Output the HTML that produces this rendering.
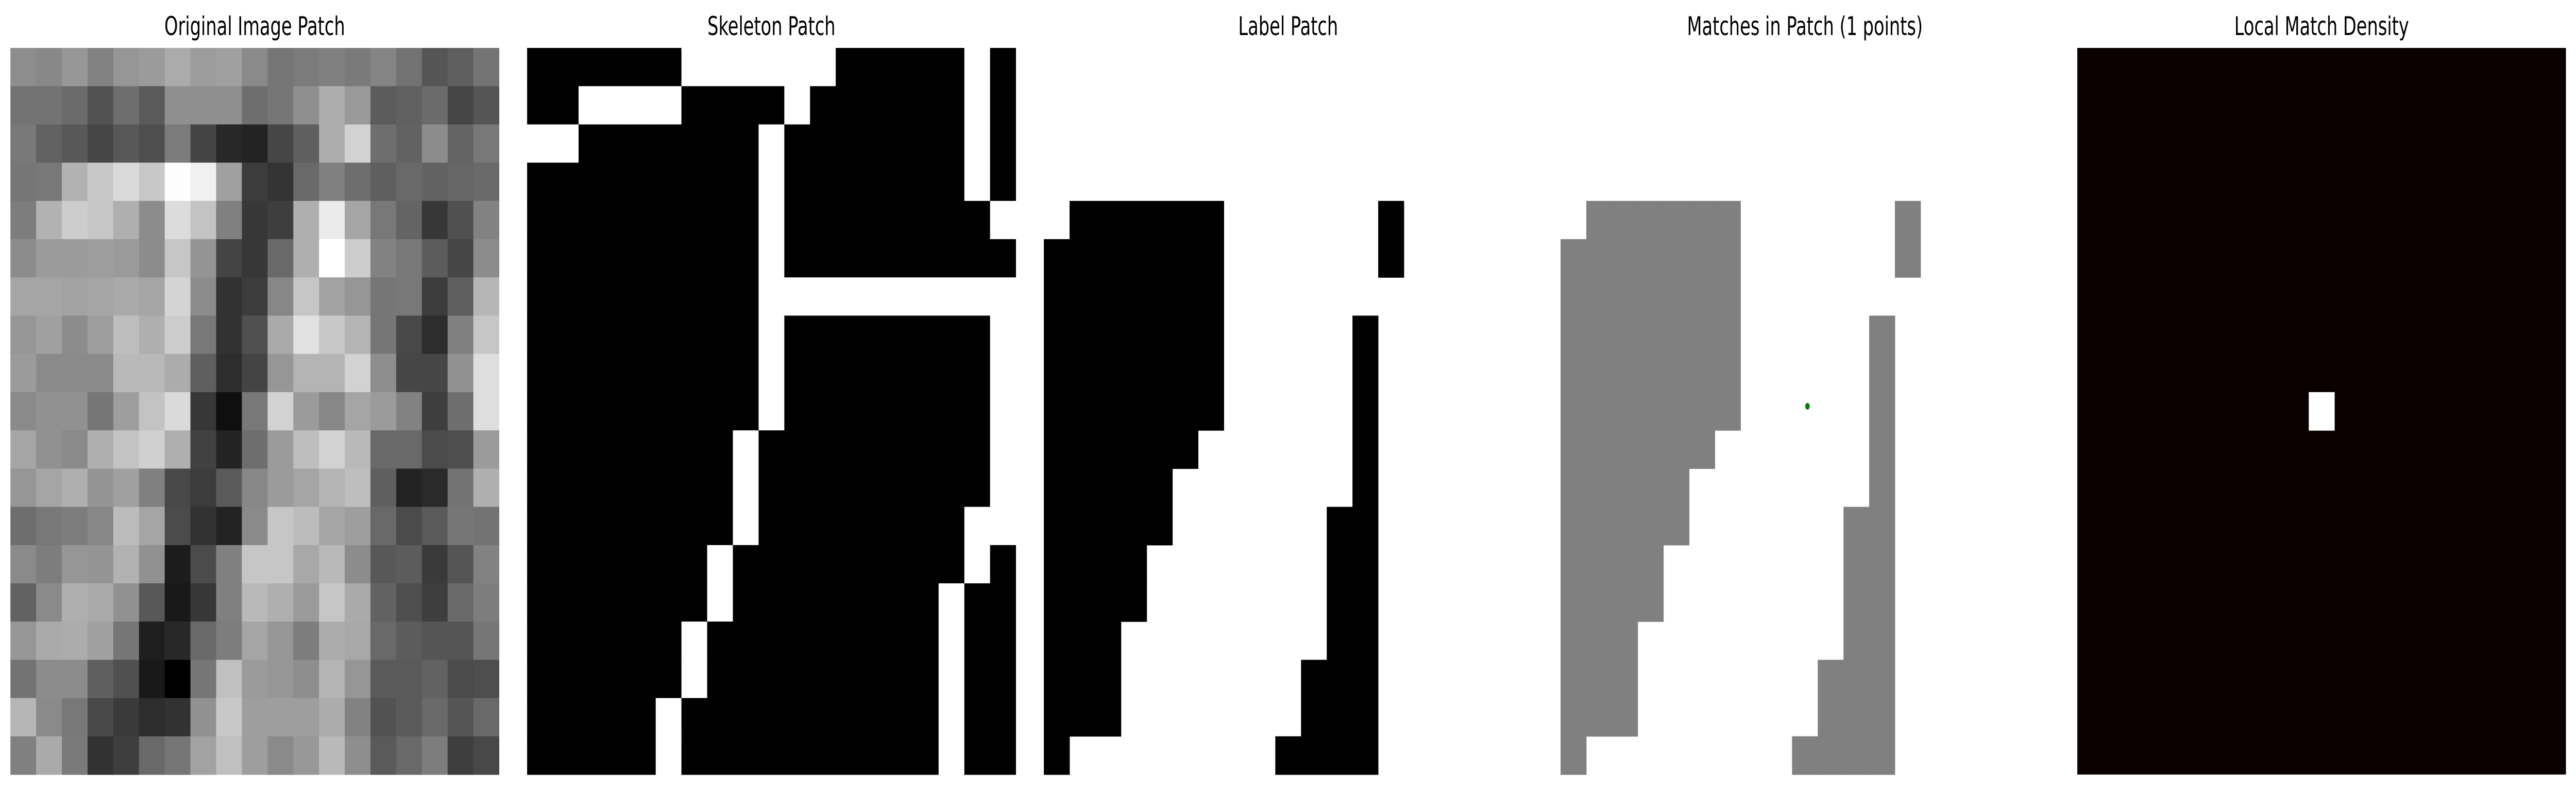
<!DOCTYPE html>
<html><head><meta charset="utf-8"><style>
html,body{margin:0;padding:0;background:#fff;overflow:hidden;width:100%;height:100%;}
svg{display:block;width:100vw;height:100vh;}
text{font-family:"DejaVu Sans","Liberation Sans",sans-serif;font-size:50px;fill:#000;}
</style></head><body>
<svg id="fig" viewBox="0 0 7433 1533" preserveAspectRatio="none" xmlns="http://www.w3.org/2000/svg">
<rect width="7433" height="1533" fill="#fff"/>
<text x="735" y="68" text-anchor="middle">Original Image Patch</text>
<text x="2226" y="68" text-anchor="middle">Skeleton Patch</text>
<text x="3717" y="68" text-anchor="middle">Label Patch</text>
<text x="5208" y="68" text-anchor="middle">Matches in Patch (1 points)</text>
<text x="6699" y="68" text-anchor="middle">Local Match Density</text>
<g id="p1"></g>
<g id="p2"></g>
<g id="p3"></g>
<g id="p4"></g>
<g id="p5"></g>
</svg>
<script>
const grayRows = [
[141,136,151,130,150,155,171,156,160,138,118,123,128,122,132,114,85,95,116],
[115,115,107,82,110,90,143,143,143,110,118,143,173,153,92,96,107,70,85],
[120,98,88,70,88,78,123,68,40,35,70,95,173,210,110,98,140,100,120],
[118,120,178,200,218,200,253,240,160,60,52,105,128,110,95,105,98,102,106],
[125,178,205,198,175,140,220,195,128,55,62,175,235,165,120,100,55,80,130],
[140,155,155,158,155,140,198,148,68,55,105,175,255,205,130,120,92,70,140],
[165,165,162,165,170,165,212,140,50,60,135,198,162,150,118,120,60,95,182],
[150,160,140,158,190,175,205,120,50,80,170,225,200,180,118,72,45,128,198],
[155,138,138,138,185,185,172,95,45,68,150,180,180,210,142,70,70,145,222],
[138,145,145,118,158,195,218,55,15,120,210,155,135,165,155,130,62,110,222],
[165,145,138,175,195,208,175,65,35,110,155,190,210,185,105,105,75,78,155],
[150,165,175,148,160,128,72,60,90,135,155,165,180,190,95,35,42,115,175],
[110,120,125,135,188,165,75,50,35,138,198,188,165,158,105,75,90,118,115],
[138,125,150,148,178,145,28,75,128,198,198,168,185,140,88,92,58,85,130],
[98,138,175,170,145,88,25,55,128,185,175,155,198,170,98,78,62,105,125],
[150,170,172,160,118,30,40,105,125,165,150,125,172,168,105,92,85,85,118],
[115,140,140,95,80,25,0,118,192,155,150,142,180,150,90,90,98,75,78],
[182,138,120,72,58,45,50,145,200,158,158,158,172,130,82,90,105,85,105],
[128,170,122,50,62,105,118,162,192,158,138,152,185,142,90,105,125,62,72]
];
const skeletonRows = [
"0000001111110000010",
"0011110000100000010",
"1100000001000000010",
"0000000001000000010",
"0000000001000000001",
"0000000001000000000",
"0000000001111111111",
"0000000001000000001",
"0000000001000000001",
"0000000001000000001",
"0000000010000000001",
"0000000010000000001",
"0000000010000000011",
"0000000100000000010",
"0000000100000000100",
"0000001000000000100",
"0000001000000000100",
"0000010000000000100",
"0000010000000000100"
];
const labelRows = [
"0000000000000000000",
"0000000000000000000",
"0000000000000000000",
"0000000000000000000",
"0111111000000100000",
"1111111000000100000",
"1111111000000000000",
"1111111000001000000",
"1111111000001000000",
"1111111000001000000",
"1111110000001000000",
"1111100000001000000",
"1111100000011000000",
"1111000000011000000",
"1111000000011000000",
"1110000000011000000",
"1110000000111000000",
"1110000000111000000",
"1000000001111000000"
];
const matchCols = [9.6];
const matchRows = [9.37];
const densityCols = [9];
const densityRows = [9];

const NS = "http://www.w3.org/2000/svg";
const N = 19, SIZE = 1410, TOP = 93, CELL = SIZE / N;
const panelX = [30, 1521, 3012, 4503, 5994];
function cx(p, c) { return panelX[p] + c * CELL; }
function cy(r) { return TOP + r * CELL; }
function rect(g, x, y, w, h, fill) {
  const el = document.createElementNS(NS, "rect");
  el.setAttribute("x", x); el.setAttribute("y", y);
  el.setAttribute("width", w + 0.6); el.setAttribute("height", h + 0.6);
  el.setAttribute("fill", fill);
  g.appendChild(el);
  return el;
}
const g1 = document.getElementById("p1");
grayRows.forEach((row, r) => row.forEach((v, c) => {
  const el = rect(g1, cx(0, c), cy(r), CELL, CELL, `rgb(${v},${v},${v})`);
  
  
}));
const g2 = document.getElementById("p2");
skeletonRows.forEach((row, r) => [...row].forEach((v, c) => {
  const el = rect(g2, cx(1, c), cy(r), CELL, CELL, v === "1" ? "#fff" : "#000");
  
  
}));
const g3 = document.getElementById("p3"), g4 = document.getElementById("p4");
labelRows.forEach((row, r) => [...row].forEach((v, c) => {
  if (v !== "1") return;
  const a = rect(g3, cx(2, c), cy(r), CELL, CELL, "#000");
  
  
  const b = rect(g4, cx(3, c), cy(r), CELL, CELL, "#808080");
  
  
}));
matchCols.forEach((c, i) => {
  const d = document.createElementNS(NS, "circle");
  d.setAttribute("cx", cx(3, c)); d.setAttribute("cy", cy(matchRows[i]));
  d.setAttribute("r", 6.5); d.setAttribute("fill", "#008000");
  
  
  g4.appendChild(d);
});
const g5 = document.getElementById("p5");
const bg = rect(g5, panelX[4], TOP, SIZE - 0.6, SIZE - 0.6, "#0b0000");


densityCols.forEach((c, i) => {
  const el = rect(g5, cx(4, c), cy(densityRows[i]), CELL, CELL, "#fff");
  
  
});
</script>
</body></html>
